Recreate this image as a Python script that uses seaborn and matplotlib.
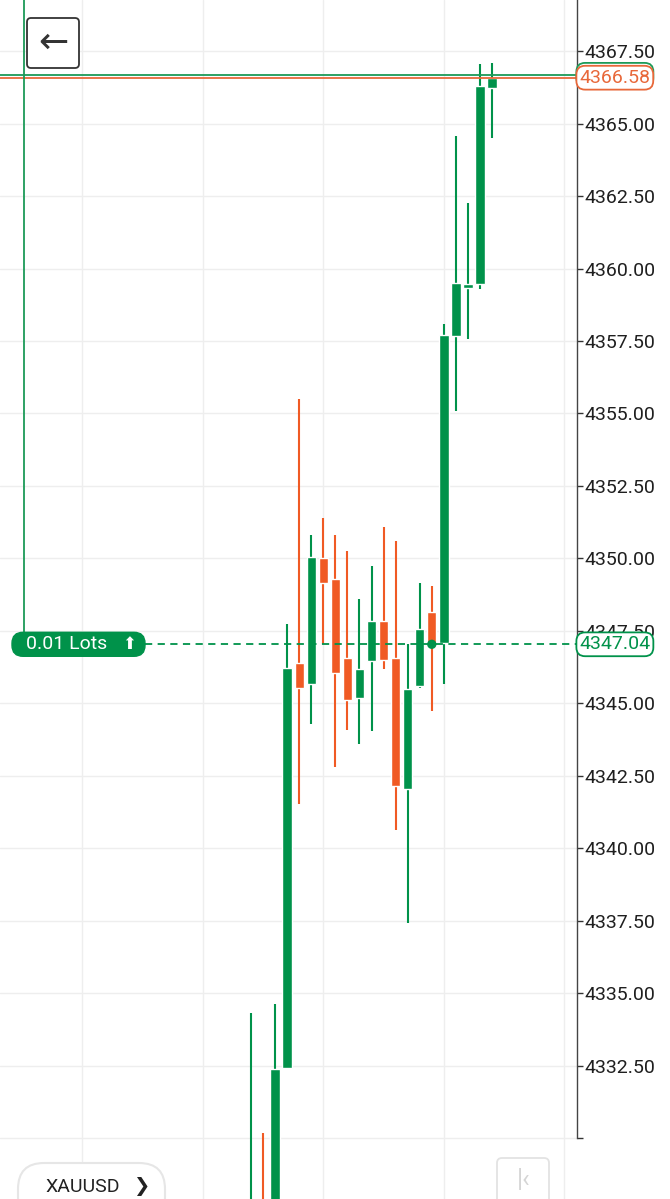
import numpy as np
import pandas as pd
import seaborn as sns
import matplotlib.pyplot as plt
from matplotlib.patches import FancyBboxPatch
from matplotlib.transforms import Affine2D, blended_transform_factory

# Kerzendaten XAUUSD (Index 0 = aelteste sichtbare Kerze)
opens = [4325.6, 4327.4, 4326.3, 4332.43, 4346.4, 4345.67, 4350.0, 4349.3, 4346.57, 4345.2, 4346.47,
         4347.84, 4346.57, 4342.05, 4345.6, 4348.16, 4347.1, 4357.67, 4359.33, 4359.47, 4366.22]
highs = [4334.33, 4330.2, 4334.64, 4347.74, 4355.5, 4350.8, 4351.4, 4350.8, 4350.26, 4348.6, 4349.74,
         4351.1, 4350.6, 4347.05, 4349.16, 4349.05, 4358.08, 4364.57, 4362.26, 4367.05, 4367.09]
lows = [4325.0, 4325.0, 4325.8, 4332.4, 4341.53, 4344.3, 4347.05, 4342.8, 4344.1, 4343.6, 4344.05,
        4346.2, 4340.64, 4337.43, 4345.55, 4344.74, 4345.67, 4355.1, 4357.57, 4359.3, 4364.5]
closes = [4327.2, 4326.0, 4332.4, 4346.22, 4345.53, 4350.05, 4349.15, 4346.05, 4345.12, 4346.2, 4347.84,
          4346.5, 4342.16, 4345.5, 4347.57, 4347.05, 4357.7, 4359.5, 4359.47, 4366.3, 4366.58]

price_ticks = [4330.0, 4332.5, 4335.0, 4337.5, 4340.0, 4342.5, 4345.0, 4347.5,
               4350.0, 4352.5, 4355.0, 4357.5, 4360.0, 4362.5, 4365.0, 4367.5]
tick_labels = ['', '4332.50', '4335.00', '4337.50', '4340.00', '4342.50', '4345.00', '4347.50',
               '4350.00', '4352.50', '4355.00', '4357.50', '4360.00', '4362.50', '4365.00', '4367.50']

bid_price = 4366.58
ask_price = 4366.68
entry_price = 4347.04
entry_candle = 15
lot_text = '0.01 Lots'
symbol = 'XAUUSD'

GREEN = '#00924a'
ORANGE = '#f05a24'

sns.set_style('white')
plt.rcParams['font.family'] = ['Roboto', 'DejaVu Sans']

W, H = 670, 1199
fig = plt.figure(figsize=(W / 100, H / 100), dpi=100)
ax = fig.add_axes([0, 0, 577 / W, 1])

df = pd.DataFrame({'open': opens, 'high': highs, 'low': lows, 'close': closes})
df['idx'] = np.arange(len(df))
df['color'] = np.where(df['close'] >= df['open'], GREEN, ORANGE)
df['bottom'] = df[['open', 'close']].min(axis=1)
df['body'] = (df['close'] - df['open']).abs().clip(lower=0.1)

# Dochte und Koerper
ax.vlines(df['idx'], df['low'], df['high'], colors=df['color'], lw=1.5, zorder=3)
ax.bar(df['idx'], df['body'], bottom=df['bottom'], width=0.78, color=df['color'], zorder=4)

# Einstiegspunkt
sns.scatterplot(x=[entry_candle], y=[entry_price], s=45, color=GREEN, edgecolor='none', ax=ax, zorder=6)

ylo, yhi = 4327.91, 4369.26
ax.set_ylim(ylo, yhi)
ax.set_xlim(-20.83, 27.05)
ax.set_xlabel('')
ax.set_ylabel('')

ax.set_xticks([-14, -4, 6, 16, 26])
ax.set_yticks(price_ticks)
ax.set_yticklabels(tick_labels)
ax.grid(True, color='#eeeeee', lw=1)
ax.tick_params(axis='x', length=0, labelbottom=False)
ax.yaxis.tick_right()
ax.tick_params(axis='y', direction='out', length=4, width=1, color='#333333',
               labelsize=14, labelcolor='#1f1f1f', pad=1)
for s in ['top', 'left', 'bottom']:
    ax.spines[s].set_visible(False)
ax.spines['right'].set_color('#444444')
ax.spines['right'].set_linewidth(1)
ax.spines['right'].set_bounds(4330.0, yhi)

# Preislinien
ax.axhline(ask_price, color='#1c9a58', lw=1.3, zorder=5)
ax.axhline(bid_price, color='#e8683a', lw=1.3, zorder=5)
ax.axhline(entry_price, xmin=145 / 577, xmax=1, color=GREEN, lw=1.3, ls=(0, (4, 3)), zorder=5)

# Positionslinie links
box_top = entry_price + 12 / 29
ax.axvline(-18.85, ymin=(box_top - ylo) / (yhi - ylo), ymax=1, color='#1c9a58', lw=1.3, zorder=5)

trans = blended_transform_factory(ax.transAxes, ax.transData)
for price, col in [(ask_price, '#1c9a58'), (bid_price, '#e8683a'), (entry_price, GREEN)]:
    ax.text(1.004, price, f'{price:.2f}', transform=trans, ha='left', va='center', fontsize=14,
            color=col, clip_on=False, zorder=10,
            bbox=dict(boxstyle='round,pad=0.15,rounding_size=0.45', fc='white', ec=col, lw=1.3))

# UI-Elemente in Pixelkoordinaten
px = Affine2D().scale(1 / W, -1 / H).translate(0, 1) + fig.transFigure
entry_px = H - ax.transData.transform((0, entry_price))[1]

fig.add_artist(FancyBboxPatch((12, entry_px - 12), 133, 24, boxstyle='round,pad=0,rounding_size=11',
                              transform=px, fc=GREEN, ec=GREEN, lw=1))
fig.text(26, entry_px, lot_text, transform=px, ha='left', va='center', fontsize=14, color='white')
fig.text(129, entry_px, '⬆', transform=px, ha='center', va='center', fontsize=12,
         color='white', family=['DejaVu Sans'])

fig.add_artist(FancyBboxPatch((27, 18), 52, 50, boxstyle='round,pad=0,rounding_size=4',
                              transform=px, fc='white', ec='#333333', lw=1.3))
fig.text(53, 43, '←', transform=px, ha='center', va='center', fontsize=26, color='#333333',
         family=['DejaVu Sans'])

fig.add_artist(FancyBboxPatch((18, 1163), 147, 60, boxstyle='round,pad=0,rounding_size=26',
                              transform=px, fc='white', ec='#e6e6e6', lw=1.5))
fig.text(45, 1187, symbol, transform=px, ha='left', va='center', fontsize=14, color='#222222')
fig.text(141, 1187, '❯', transform=px, ha='center', va='center', fontsize=14, color='#222222',
         family=['DejaVu Sans'], fontweight='bold')

fig.add_artist(FancyBboxPatch((497, 1158), 52, 55, boxstyle='round,pad=0,rounding_size=5',
                              transform=px, fc='white', ec='#e3e3e3', lw=1.3))
fig.text(524, 1180, '|‹', transform=px, ha='center', va='center', fontsize=18, color='#d5d5d5')

fig.savefig('out.png', dpi=100)
